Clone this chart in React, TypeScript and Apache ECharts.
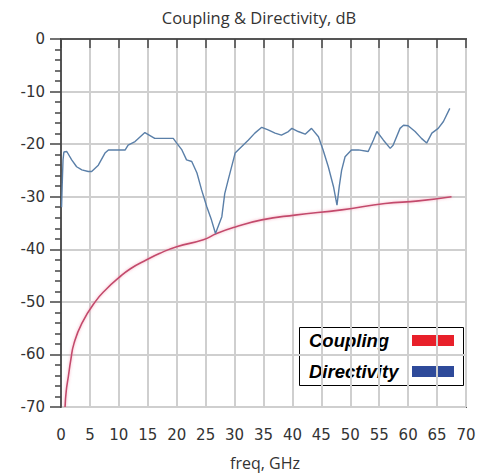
import React, { useEffect, useRef } from "react";
import * as echarts from "echarts";

const titleText = "Coupling & Directivity, dB";
const xAxisName = "freq, GHz";
const seriesNames = ["Coupling", "Directivity"];
const legendSwatchColors = ["#e8202a", "#2e4a9a"];

const couplingFreq = [0.7, 0.9, 1.27, 1.7, 2.25, 3.6, 5.9, 7.9, 9.9, 12, 14.8, 17, 20, 24.6, 26.9, 30, 34.7, 40.4, 48.5, 56, 61.8, 67.5];
const couplingDb = [-70, -67, -64.2, -61, -57.9, -54.1, -50, -47.5, -45.5, -43.7, -42, -40.8, -39.5, -38.2, -37, -35.8, -34.4, -33.5, -32.5, -31.3, -30.8, -30];

const directivityFreq = [0.1, 0.2, 0.35, 0.5, 1.0, 1.85, 2.7, 3.6, 4.7, 5.3, 6.45, 7.6, 8.2, 11.1, 11.6, 12.8, 14.5, 16.2, 19.4, 20, 20.9, 21.7, 22.6, 23.5, 24.3, 25.2, 26, 26.7, 27.8, 28.3, 28.9, 30.1, 31.2, 32.4, 33.5, 34.7, 35.8, 37, 38.1, 39.3, 39.9, 41, 42.2, 43.3, 44.5, 45.3, 46.2, 47.1, 47.7, 48.1, 48.5, 49.1, 50.2, 51.4, 53.1, 54, 54.6, 55.7, 56.9, 57.4, 58.6, 59.2, 60, 61.2, 62.3, 63.2, 64.1, 65.2, 66.1, 67.2];
const directivityDb = [-32, -28, -23, -21.5, -21.4, -23, -24.3, -24.9, -25.2, -25.2, -24, -21.7, -21.1, -21.1, -20.2, -19.5, -17.8, -18.9, -18.9, -19.8, -21.1, -23, -23.3, -25.5, -28.7, -31.9, -34.4, -37, -33.8, -29.4, -26.8, -21.7, -20.5, -19.2, -17.9, -16.8, -17.3, -17.9, -18.3, -17.6, -17, -17.6, -18.1, -17, -18.6, -21.1, -24.3, -28.1, -31.6, -28, -25, -22.4, -21.1, -21.1, -21.4, -19.2, -17.6, -19.2, -20.8, -20.2, -17, -16.4, -16.5, -17.6, -18.9, -19.8, -17.9, -17, -15.7, -13.2];

const xTicks = { min: 0, max: 70, interval: 5 };
const yTicks = { min: -70, max: 0, interval: 10 };

export default function App() {
  const ref = useRef<HTMLDivElement>(null);
  useEffect(() => {
    if (!ref.current) return;
    const chart = echarts.init(ref.current, undefined, { renderer: "svg" });
    const tickFont = "'DejaVu Sans', sans-serif";
    const legendFont = "'Liberation Sans', Arial, sans-serif";
    chart.setOption({
      animation: false,
      backgroundColor: "#ffffff",
      grid: {
        left: 61,
        top: 39,
        width: 405,
        height: 368,
        show: true,
        borderColor: "#555555",
        borderWidth: 2,
        backgroundColor: "rgba(0,0,0,0)",
      },
      xAxis: {
        type: "value",
        min: xTicks.min,
        max: xTicks.max,
        interval: xTicks.interval,
        axisLine: { show: true, lineStyle: { color: "#555555", width: 2 } },
        axisTick: { show: true, inside: false, length: 9, lineStyle: { color: "#444444", width: 1.5 } },
        axisLabel: { margin: 20, fontSize: 15, fontFamily: tickFont, color: "#333333" },
        splitLine: { show: true, lineStyle: { color: "#cfcfcf", width: 2, type: "solid" } },
      },
      yAxis: {
        type: "value",
        min: yTicks.min,
        max: yTicks.max,
        interval: yTicks.interval,
        axisLine: { show: true, lineStyle: { color: "#555555", width: 2 } },
        axisTick: { show: true, inside: false, length: 11, lineStyle: { color: "#444444", width: 1.5 } },
        minorTick: { show: true, splitNumber: 5, length: 6, lineStyle: { color: "#444444", width: 1.5 } },
        axisLabel: { margin: 16, fontSize: 15, fontFamily: tickFont, color: "#333333" },
        splitLine: { show: true, lineStyle: { color: "#cfcfcf", width: 2, type: "solid" } },
      },
      series: [
        {
          name: seriesNames[0],
          type: "line",
          data: couplingFreq.map((f, i) => [f, couplingDb[i]]),
          showSymbol: false,
          smooth: true,
          lineStyle: { color: "#c34a6c", width: 1.6, shadowColor: "rgba(245,150,175,0.8)", shadowBlur: 3 },
          z: 3,
        },
        {
          name: seriesNames[1],
          type: "line",
          data: directivityFreq.map((f, i) => [f, directivityDb[i]]),
          showSymbol: false,
          lineStyle: { color: "#5a7fa8", width: 1.4 },
          z: 4,
        },
      ],
      graphic: [
        {
          type: "text",
          x: 259,
          y: 17,
          style: { text: titleText, fontSize: 16.5, fontFamily: "'Open Sans', sans-serif", fill: "#333333", align: "center", verticalAlign: "middle" },
        },
        {
          type: "text",
          x: 265,
          y: 463,
          style: { text: xAxisName, fontSize: 16, fontFamily: "'Open Sans', sans-serif", fill: "#333333", align: "center", verticalAlign: "middle" },
        },
        {
          type: "group",
          z: 100,
          children: [
            { type: "rect", shape: { x: 299.5, y: 327.5, width: 164, height: 58 }, style: { fill: "#ffffff", stroke: "#000000", lineWidth: 1 } },
            { type: "text", x: 309, y: 340, style: { text: seriesNames[0], fontSize: 18.5, fontWeight: "bold", fontStyle: "italic", fontFamily: legendFont, fill: "#000000", verticalAlign: "middle" } },
            { type: "text", x: 309, y: 371, style: { text: seriesNames[1], fontSize: 18.5, fontWeight: "bold", fontStyle: "italic", fontFamily: legendFont, fill: "#000000", verticalAlign: "middle" } },
            { type: "rect", shape: { x: 412, y: 335, width: 42, height: 11 }, style: { fill: legendSwatchColors[0] } },
            { type: "rect", shape: { x: 412, y: 366, width: 42, height: 11 }, style: { fill: legendSwatchColors[1] } },
          ],
        },
      ],
    });
    return () => chart.dispose();
  }, []);
  return <div ref={ref} style={{ position: "fixed", left: 0, top: 0, width: 492, height: 476 }} />;
}
